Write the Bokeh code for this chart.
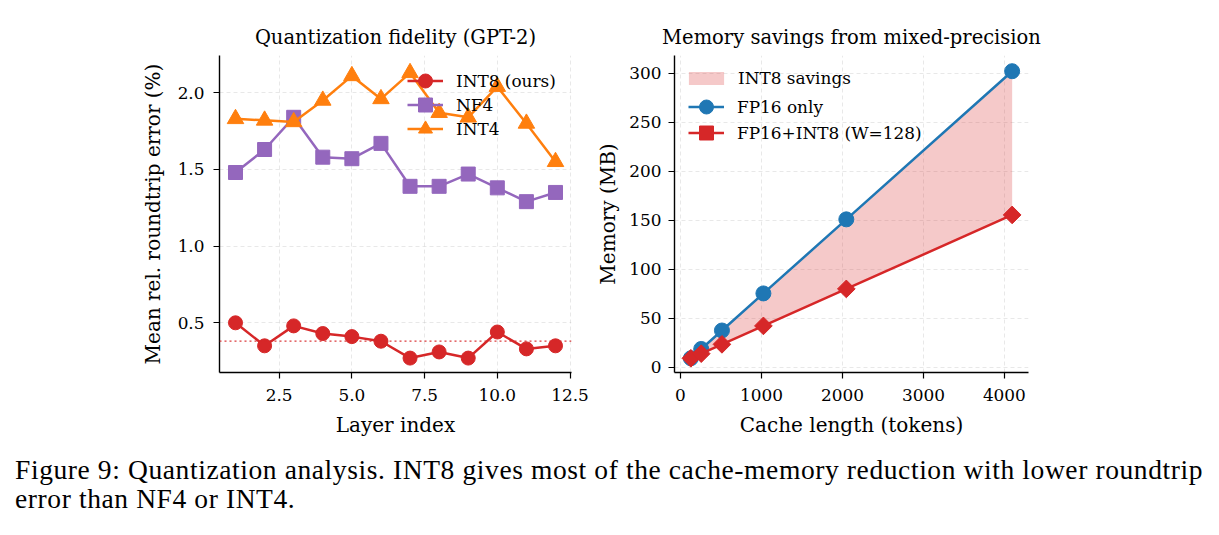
from bokeh.plotting import figure
from bokeh.models import (Span, Legend, LegendItem, FixedTicker, PrintfTickFormatter,
                          Range1d, Div, ColumnDataSource)
from bokeh.layouts import row, column
from bokeh.embed import file_html
from bokeh.resources import INLINE

# --- per-layer roundtrip error (%) ---
layers = [1, 2, 3, 4, 5, 6, 7, 8, 9, 10, 11, 12]
int8_err = [0.50, 0.35, 0.48, 0.43, 0.41, 0.38, 0.27, 0.31, 0.27, 0.44, 0.33, 0.35]
nf4_err = [1.48, 1.63, 1.84, 1.58, 1.57, 1.67, 1.39, 1.39, 1.47, 1.38, 1.29, 1.35]
int4_err = [1.83, 1.82, 1.81, 1.95, 2.11, 1.96, 2.13, 1.87, 1.84, 2.04, 1.80, 1.55]
int8_mean = 0.38

# --- cache memory (MB) vs cache length ---
cache_len = [128, 256, 512, 1024, 2048, 4096]
fp16_mb = [9.4, 18.9, 37.7, 75.5, 151.0, 302.0]
mixed_mb = [9.4, 14.1, 23.6, 42.4, 80.1, 155.5]

left_xticks = [2.5, 5.0, 7.5, 10.0, 12.5]
left_yticks = [0.5, 1.0, 1.5, 2.0]
right_xticks = [0, 1000, 2000, 3000, 4000]
right_yticks = [0, 50, 100, 150, 200, 250, 300]

RED = "#d62728"
PURPLE = "#9467bd"
ORANGE = "#ff7f0e"
BLUE = "#1f77b4"
FONT = "DejaVu Serif"
LW = 2.5
FRAME_H = 317


def style(p, xticks, yticks, xfmt, yfmt):
    p.outline_line_color = None
    p.title.text_font = FONT
    p.title.text_font_size = "19.5px"
    p.title.text_font_style = "normal"
    p.title.text_color = "black"
    p.title.align = "center"
    p.title.standoff = 13
    for ax in (p.xaxis[0], p.yaxis[0]):
        ax.axis_line_color = "black"
        ax.axis_line_width = 1.4
        ax.major_tick_line_color = "black"
        ax.major_tick_line_width = 1.2
        ax.major_tick_out = 6
        ax.major_tick_in = 0
        ax.minor_tick_line_color = None
        ax.major_label_text_font = FONT
        ax.major_label_text_font_size = "16.9px"
        ax.major_label_text_color = "black"
        ax.axis_label_text_font = FONT
        ax.axis_label_text_font_size = "20px"
        ax.axis_label_text_font_style = "normal"
        ax.axis_label_text_color = "black"
    p.xaxis.major_label_standoff = 10
    p.yaxis.major_label_standoff = 9
    p.xaxis.axis_label_standoff = 9
    p.yaxis.axis_label_standoff = 10
    p.xaxis.ticker = FixedTicker(ticks=xticks)
    p.yaxis.ticker = FixedTicker(ticks=yticks)
    p.xaxis.formatter = PrintfTickFormatter(format=xfmt)
    p.yaxis.formatter = PrintfTickFormatter(format=yfmt)
    for g in (p.xgrid[0], p.ygrid[0]):
        g.grid_line_color = "#b8b8b8"
        g.grid_line_alpha = 0.4
        g.grid_line_dash = "4 3"
        g.grid_line_width = 0.8


def legend_row(p, label, renderers, x, row_center, glyph_w=36, glyph_h=35,
               standoff=13):
    """One legend entry, its row centred `row_center` px below the frame top."""
    y = int(round(FRAME_H - row_center - glyph_h / 2))
    p.add_layout(Legend(items=[LegendItem(label=label, renderers=renderers)],
                        location=(x, y), background_fill_alpha=0,
                        border_line_alpha=0, padding=0, margin=0, spacing=0,
                        glyph_width=glyph_w, glyph_height=glyph_h, label_height=20,
                        label_standoff=standoff, label_text_font=FONT,
                        label_text_font_size="16.9px", label_text_color="black"))


# ---------------- left panel: quantization fidelity ----------------
p1 = figure(frame_width=352, frame_height=FRAME_H,
            min_border_left=219, min_border_right=19, min_border_top=55,
            min_border_bottom=68, output_backend="svg", toolbar_location=None,
            x_range=Range1d(0.45, 12.55), y_range=Range1d(0.176, 2.243),
            title="Quantization fidelity (GPT-2)",
            x_axis_label="Layer index",
            y_axis_label="Mean rel. roundtrip error (%)")
style(p1, left_xticks, left_yticks, "%.1f", "%.1f")

src1 = ColumnDataSource(dict(x=layers, int8=int8_err, nf4=nf4_err, int4=int4_err))
l_int8 = p1.line("x", "int8", source=src1, color=RED, line_width=LW)
m_int8 = p1.scatter("x", "int8", source=src1, marker="circle", size=14,
                    fill_color=RED, line_color=RED)
l_nf4 = p1.line("x", "nf4", source=src1, color=PURPLE, line_width=LW)
m_nf4 = p1.scatter("x", "nf4", source=src1, marker="square", size=14,
                   fill_color=PURPLE, line_color=PURPLE)
l_int4 = p1.line("x", "int4", source=src1, color=ORANGE, line_width=LW)
m_int4 = p1.scatter("x", "int4", source=src1, marker="triangle", size=16.5,
                    fill_color=ORANGE, line_color=ORANGE)

p1.add_layout(Span(location=int8_mean, dimension="width", line_color=RED,
                   line_dash="2 3", line_width=1.3, line_alpha=0.9))

legend_row(p1, "INT8 (ours)", [l_int8, m_int8], 188, 25)
legend_row(p1, "NF4", [l_nf4, m_nf4], 188, 49)
legend_row(p1, "INT4", [l_int4, m_int4], 188, 74)

# ---------------- right panel: memory savings ----------------
p2 = figure(frame_width=354, frame_height=FRAME_H,
            min_border_left=84, min_border_right=187, min_border_top=55,
            min_border_bottom=68, output_backend="svg", toolbar_location=None,
            x_range=Range1d(-74, 4298), y_range=Range1d(-5.1, 318),
            title="Memory savings from mixed-precision",
            x_axis_label="Cache length (tokens)",
            y_axis_label="Memory (MB)")
style(p2, right_xticks, right_yticks, "%d", "%d")
p2.yaxis.major_label_standoff = 7
p2.yaxis.axis_label_standoff = 6

src2 = ColumnDataSource(dict(x=cache_len, fp16=fp16_mb, mixed=mixed_mb))
band = p2.varea(x="x", y1="mixed", y2="fp16", source=src2, fill_color=RED,
                fill_alpha=0.25)
l_fp16 = p2.line("x", "fp16", source=src2, color=BLUE, line_width=LW)
m_fp16 = p2.scatter("x", "fp16", source=src2, marker="circle", size=15,
                    fill_color=BLUE, line_color=BLUE)
l_mix = p2.line("x", "mixed", source=src2, color=RED, line_width=LW)
m_mix = p2.scatter("x", "mixed", source=src2, marker="square", angle=0.7854,
                   size=12.5, fill_color=RED, line_color=RED)

legend_row(p2, "INT8 savings", [band], 10, 25, glyph_w=44, glyph_h=16, standoff=10)
legend_row(p2, "FP16 only", [l_fp16, m_fp16], 14, 51)
legend_row(p2, "FP16+INT8 (W=128)", [l_mix, m_mix], 14, 78)

caption = Div(
    text=("Figure 9: Quantization analysis. INT8 gives most of the cache-memory "
          "reduction with lower roundtrip<br>error than NF4 or INT4."),
    width=1219, height=95,
    styles={"font-family": "Liberation Serif", "font-size": "27.5px",
            "letter-spacing": "0.6px", "line-height": "29px",
            "padding-top": "10px", "padding-left": "10px",
            "white-space": "nowrap", "color": "black"})

layout = column(row(p1, p2), caption)
open("out.html", "w").write(file_html(layout, INLINE))
